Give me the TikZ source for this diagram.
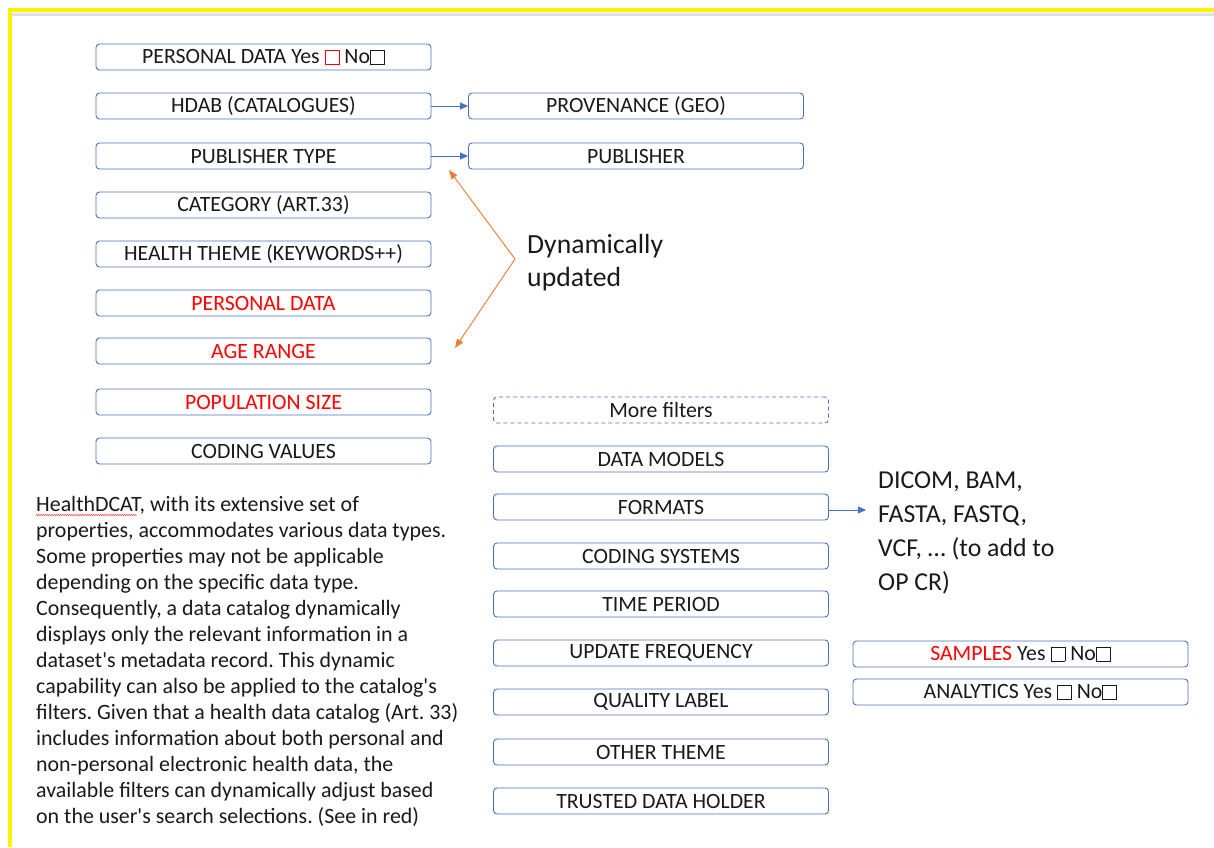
\documentclass[tikz,border=0pt]{standalone}
\usepackage{fontspec}
\setmainfont{Carlito}
\usetikzlibrary{arrows.meta,decorations.pathmorphing}
\definecolor{boxblue}{HTML}{4A72BE}
\definecolor{arrblue}{HTML}{4472C4}
\definecolor{orng}{HTML}{ED7D31}
\definecolor{rd}{HTML}{FF0000}
\definecolor{txt}{HTML}{1A1A1A}
\newcommand\chkbox[1][txt]{\textcolor{#1}{\fboxsep=0pt\fboxrule=0.9pt\fbox{\rule{0pt}{0.6em}\hspace{0.6em}}}}
\newcommand\ap{\textquotesingle}
\frenchspacing
\tikzset{
  filt/.style={draw=boxblue, line width=0.9pt, rounded corners=3.5pt, minimum width=335pt, minimum height=26pt, inner sep=0pt, font=\fontsize{21.8}{24}\selectfont, text=txt},
  redfilt/.style={filt, text=rd},
  dashfilt/.style={filt, dashed, dash pattern=on 4pt off 3pt},
  barrow/.style={draw=arrblue, line width=0.9pt, -{Triangle[length=8pt,width=7pt]}},
  oarrow/.style={draw=orng, line width=0.9pt, -{Triangle[length=9pt,width=7pt]}},
  bigtxt/.style={align=left, inner sep=0pt, text=txt},
  paratxt/.style={align=left, inner sep=0pt, font=\fontsize{21.9}{26}\selectfont, text=txt}
}
\begin{document}
\begin{tikzpicture}[x=1pt,y=-1pt]
\useasboundingbox (0,0) rectangle (1214,847);
\fill[white] (0,0) rectangle (1214,847);
% frame
\draw[black!12, line width=3pt] (12,14) -- (1214,14);
\draw[yellow, line width=4pt] (10,10) -- (1214,10);
\draw[yellow, line width=4pt] (10,8) -- (10,847);
% left column
\node[filt] (pdyn) at (263.5,57) {PERSONAL DATA Yes \chkbox[rd] No\chkbox};
\node[filt] (hdab) at (263.5,106) {HDAB (CATALOGUES)};
\node[filt] (pubt) at (263.5,156) {PUBLISHER TYPE};
\node[filt] (cat) at (263.5,205) {CATEGORY (ART.33)};
\node[filt] (theme) at (263.5,254) {HEALTH THEME (KEYWORDS++)};
\node[redfilt] (pd) at (263.5,303) {PERSONAL DATA};
\node[redfilt] (age) at (263.5,351) {AGE RANGE};
\node[redfilt] (pop) at (263.5,402) {POPULATION SIZE};
\node[filt] (codv) at (263.5,451) {CODING VALUES};
% top right
\node[filt] (prov) at (636,106) {PROVENANCE (GEO)};
\node[filt] (pub) at (636,156) {PUBLISHER};
\draw[barrow] (hdab.east) -- (prov.west);
\draw[barrow] (pubt.east) -- (pub.west);
% dynamically updated
\node[bigtxt, font=\fontsize{27.7}{33}\selectfont, anchor=base west] (dyn) at (527,286) {Dynamically\\updated};
\coordinate (vtx) at (515,259);
\coordinate (oe1) at (449,170);
\coordinate (oe2) at (455,348);
\draw[oarrow] (vtx) -- (oe1);
\draw[oarrow] (vtx) -- (oe2);
% middle column
\node[dashfilt] (more) at (661,410) {More filters};
\node[filt] (dm) at (661,459) {DATA MODELS};
\node[filt] (fmt) at (661,507) {FORMATS};
\node[filt] (cods) at (661,556) {CODING SYSTEMS};
\node[filt] (tp) at (661,604) {TIME PERIOD};
\node[filt] (uf) at (661,653) {UPDATE FREQUENCY};
\node[filt] (ql) at (661,702) {QUALITY LABEL};
\node[filt] (ot) at (661,752) {OTHER THEME};
\node[filt] (tdh) at (661,801) {TRUSTED DATA HOLDER};
% formats text
\node[bigtxt, font=\fontsize{25.8}{34}\selectfont, anchor=base west] (dicom) at (878,590) {DICOM, BAM,\\FASTA, FASTQ,\\VCF, … (to add to\\OP CR)};
\coordinate (fmtend) at (866,510);
\draw[barrow] (fmt.east |- fmtend) -- (fmtend);
% far right
\node[filt] (samp) at (1020.5,654) {\textcolor{rd}{SAMPLES} Yes \chkbox{} No\chkbox};
\node[filt] (anal) at (1020.5,692) {ANALYTICS Yes \chkbox{} No\chkbox};
% paragraph
\node[paratxt, anchor=base west] (para) at (36,823) {HealthDCAT, with its extensive set of\\
properties, accommodates various data types.\\
Some properties may not be applicable\\
depending on the specific data type.\\
Consequently, a data catalog dynamically\\
displays only the relevant information in a\\
dataset\ap s metadata record. This dynamic\\
capability can also be applied to the catalog\ap s\\
filters. Given that a health data catalog (Art. 33)\\
includes information about both personal and\\
non-personal electronic health data, the\\
available filters can dynamically adjust based\\
on the user\ap s search selections. (See in red)};
\coordinate (wavy) at (36,515);
\draw[rd!70, line width=0.5pt, decorate, decoration={zigzag, amplitude=0.8pt, segment length=2.2pt}] (wavy) -- ++(101,0);
\end{tikzpicture}
\end{document}
